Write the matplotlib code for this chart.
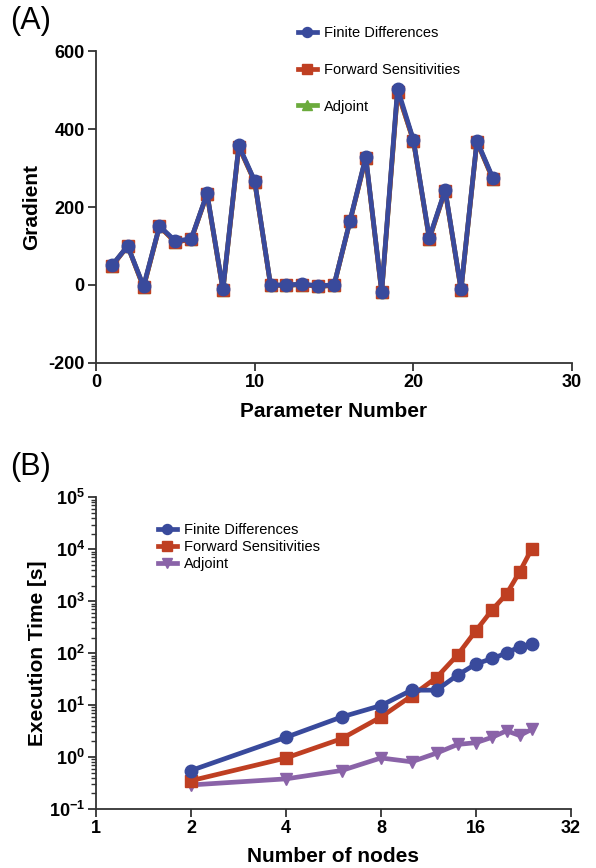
import numpy as np
import matplotlib
matplotlib.use('Agg')
import matplotlib.pyplot as plt
from matplotlib.ticker import FixedLocator, LogLocator, NullFormatter

plt.rcParams['font.family'] = ['Liberation Sans', 'DejaVu Sans']
plt.rcParams['axes.unicode_minus'] = False
plt.rcParams['mathtext.fontset'] = 'custom'
plt.rcParams['mathtext.bf'] = 'Liberation Sans:bold'

# panel A data
param = np.arange(1, 26)
grad_fd = [50, 100, -3, 151, 113, 118, 235, -11, 358, 267, 0, 0, 2, -2, 0,
           164, 329, -17, 504, 372, 121, 244, -11, 370, 275]
grad_fs = [48, 100, -6, 150, 110, 117, 233, -13, 355, 265, -1, -1, 1, -4, -1,
           163, 326, -19, 496, 370, 118, 242, -13, 368, 272]
grad_adj = grad_fs

# panel B data
nodes = [2, 4, 6, 8, 10, 12, 14, 16, 18, 20, 22, 24]
time_fd = [0.55, 2.4, 5.9, 9.8, 19.4, 19.4, 38, 62, 79, 100, 134, 149]
time_fs = [0.35, 0.96, 2.25, 5.9, 15, 34, 93, 272, 680, 1380, 3670, 10000]
time_adj = [0.29, 0.38, 0.55, 0.96, 0.81, 1.19, 1.75, 1.89, 2.4, 3.2, 2.6, 3.4]

blue = '#394a9c'
red = '#bf3f22'
green = '#6bab3c'
purple = '#8a63a8'

fig = plt.figure(figsize=(5.96, 8.68), dpi=100)
axA = fig.add_axes([0.161, 0.582, 0.799, 0.359])
axB = fig.add_axes([0.161, 0.068, 0.797, 0.359])

lw = 3.4
# panel A
hA_adj, = axA.plot(param, grad_adj, color=green, lw=lw, marker='^', ms=9, label='Adjoint', zorder=1)
hA_fs, = axA.plot(param, grad_fs, color=red, lw=lw, marker='s', ms=9, label='Forward Sensitivities', zorder=2)
hA_fd, = axA.plot(param, grad_fd, color=blue, lw=lw, marker='o', ms=9, label='Finite Differences', zorder=3)
axA.set_xlim(0, 30)
axA.set_ylim(-200, 600)
axA.set_xticks([0, 10, 20, 30])
axA.set_yticks([-200, 0, 200, 400, 600])
axA.set_xlabel('Parameter Number', fontsize=15, fontweight='bold', labelpad=8)
axA.set_ylabel('Gradient', fontsize=15, fontweight='bold', labelpad=5)
fig.legend([hA_fd, hA_fs, hA_adj], ['Finite Differences', 'Forward Sensitivities', 'Adjoint'],
           loc='upper left', bbox_to_anchor=(0.487, 0.978), frameon=False,
           fontsize=10.5, handlelength=1.3, handletextpad=0.5, labelspacing=1.55,
           markerscale=0.8, borderpad=0)

# panel B
hB_fd, = axB.plot(nodes, time_fd, color=blue, lw=lw, marker='o', ms=9, label='Finite Differences', zorder=3)
hB_fs, = axB.plot(nodes, time_fs, color=red, lw=lw, marker='s', ms=9, label='Forward Sensitivities', zorder=2)
hB_adj, = axB.plot(nodes, time_adj, color=purple, lw=lw, marker='v', ms=9, label='Adjoint', zorder=1)
axB.set_xscale('log', base=2)
axB.set_yscale('log')
axB.set_xlim(1, 32)
axB.set_ylim(0.1, 1e5)
axB.xaxis.set_major_locator(FixedLocator([1, 2, 4, 8, 16, 32]))
axB.set_xticklabels(['1', '2', '4', '8', '16', '32'])
axB.xaxis.set_minor_locator(FixedLocator([]))
axB.yaxis.set_major_locator(FixedLocator([0.1, 1, 10, 100, 1000, 1e4, 1e5]))
axB.set_yticklabels(['$\\mathbf{10^{-1}}$', '$\\mathbf{10^{0}}$', '$\\mathbf{10^{1}}$',
                     '$\\mathbf{10^{2}}$', '$\\mathbf{10^{3}}$', '$\\mathbf{10^{4}}$',
                     '$\\mathbf{10^{5}}$'])
axB.yaxis.set_minor_locator(LogLocator(base=10, subs=np.arange(2, 10), numticks=20))
axB.yaxis.set_minor_formatter(NullFormatter())
axB.set_xlabel('Number of nodes', fontsize=15, fontweight='bold', labelpad=7)
axB.set_ylabel('Execution Time [s]', fontsize=15, fontweight='bold', labelpad=1)
axB.legend([hB_fd, hB_fs, hB_adj], ['Finite Differences', 'Forward Sensitivities', 'Adjoint'],
           loc='upper left', bbox_to_anchor=(0.115, 0.94), frameon=False,
           fontsize=10.5, handlelength=1.3, handletextpad=0.5, labelspacing=0.2,
           markerscale=0.8, borderpad=0)

for ax in (axA, axB):
    for s in ('top', 'right'):
        ax.spines[s].set_visible(False)
    for s in ('left', 'bottom'):
        ax.spines[s].set_linewidth(1.3)
        ax.spines[s].set_color('#333333')
    ax.tick_params(which='major', direction='out', length=6, width=1.3, color='#333333',
                   labelsize=13, pad=2)
    ax.tick_params(which='minor', direction='out', length=3.5, width=1.0, color='#333333')
    for lab in ax.get_xticklabels() + ax.get_yticklabels():
        lab.set_fontweight('bold')

fig.text(0.017, 0.976, '(A)', fontsize=22, va='center', ha='left')
fig.text(0.017, 0.462, '(B)', fontsize=22, va='center', ha='left')

fig.savefig('out.png', dpi=100)
